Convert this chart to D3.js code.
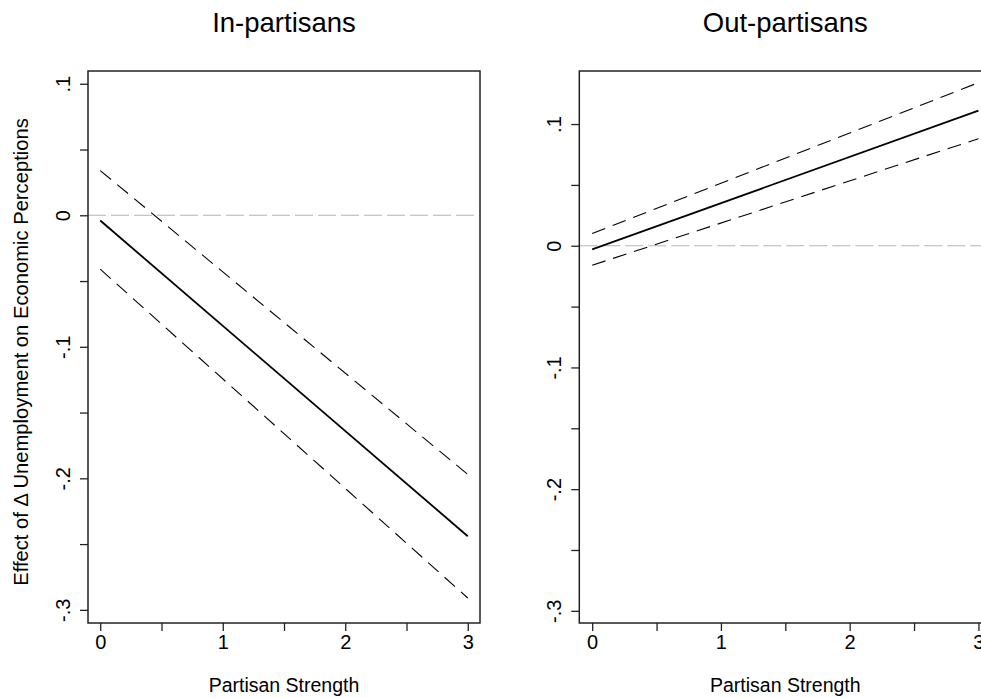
<!DOCTYPE html>
<html lang="en">
<head>
    <meta charset="UTF-8">
    <title>Partisan strength marginal effects</title>
    <script type="text/javascript" src="https://cdn.jsdelivr.net/npm/d3@7/dist/d3.min.js"></script>
    <style type="text/css">
        body { margin: 0; background: #fff; }
        text { font-family: "Liberation Sans", Arial, sans-serif; fill: #000; }
    </style>
</head>
<body>
<script type="text/javascript">

    //Width and height
    var w = 981;
    var h = 698;

    // data (lines are straight, so endpoints only)
    var strength = [0, 3];
    var inEffect = [-0.004, -0.244];
    var inUpper = [0.034, -0.197];
    var inLower = [-0.041, -0.291];
    var outEffect = [-0.003, 0.111];
    var outUpper = [0.010, 0.134];
    var outLower = [-0.016, 0.088];

    var xTicks = [0, 1, 2, 3];
    var xMinor = [0.5, 1.5, 2.5];
    var yTicks = [0.1, 0, -0.1, -0.2, -0.3];
    var yMinor = [0.05, -0.05, -0.15, -0.25];
    var yTickLabels = [".1", "0", "-.1", "-.2", "-.3"];

    var panels = [
        { title: "In-partisans", x0: 88, x1: 480, yTop: 0.1097,
          est: inEffect, hi: inUpper, lo: inLower },
        { title: "Out-partisans", x0: 579.3, x1: 991.3, yTop: 0.1436,
          est: outEffect, hi: outUpper, lo: outLower }
    ];
    var plotTop = 71, plotBottom = 623;
    var lineCol = "#222";

    var svg = d3.select("body")
        .append("svg")
        .attr("width", w)
        .attr("height", h);

    panels.forEach(function(p) {
        var x = d3.scaleLinear().domain([-0.1, 3.1]).range([p.x0, p.x1]);
        var y = d3.scaleLinear().domain([-0.31, p.yTop]).range([plotBottom, plotTop]);
        var g = svg.append("g");

        // zero reference line
        g.append("line")
            .attr("x1", p.x0).attr("x2", p.x1)
            .attr("y1", y(0)).attr("y2", y(0))
            .attr("stroke", "#b4b4b4")
            .attr("stroke-width", 1.1)
            .attr("stroke-dasharray", "18,5");

        var line = d3.line()
            .x(function(d) { return x(d[0]); })
            .y(function(d) { return y(d[1]); });

        [[p.hi, true], [p.lo, true], [p.est, false]].forEach(function(s) {
            g.append("path")
                .datum(d3.zip(strength, s[0]))
                .attr("d", line)
                .attr("fill", "none")
                .attr("stroke", "#000")
                .attr("stroke-width", s[1] ? 1.1 : 1.8)
                .attr("stroke-dasharray", s[1] ? "14,8" : null);
        });

        // frame
        g.append("rect")
            .attr("x", p.x0).attr("y", plotTop)
            .attr("width", p.x1 - p.x0).attr("height", plotBottom - plotTop)
            .attr("fill", "none")
            .attr("stroke", lineCol)
            .attr("stroke-width", 1.5);

        // x axis
        var xAxis = g.append("g")
            .attr("transform", "translate(0," + plotBottom + ")")
            .call(d3.axisBottom(x).tickValues(xTicks.concat(xMinor)).tickSize(8)
                .tickFormat(function(d) { return xTicks.indexOf(d) >= 0 ? d : ""; }));
        xAxis.select(".domain").remove();
        xAxis.selectAll("line").attr("stroke", lineCol).attr("stroke-width", 1.3);
        xAxis.selectAll("text")
            .attr("y", 26).attr("dy", 0)
            .attr("font-size", "20px")
            .attr("font-family", null);

        // y axis
        var yAxis = g.append("g")
            .attr("transform", "translate(" + p.x0 + ",0)")
            .call(d3.axisLeft(y).tickValues(yTicks.concat(yMinor.filter(function(v) { return v < p.yTop; })))
                .tickSize(8)
                .tickFormat(function(d) {
                    var i = yTicks.indexOf(d);
                    return i >= 0 ? yTickLabels[i] : "";
                }));
        yAxis.select(".domain").remove();
        yAxis.selectAll("line").attr("stroke", lineCol).attr("stroke-width", 1.3);
        yAxis.selectAll("text")
            .attr("transform", "rotate(-90)")
            .attr("x", 0).attr("y", -18).attr("dy", 0)
            .attr("text-anchor", "middle")
            .attr("font-size", "20px")
            .attr("font-family", null);

        // titles
        var cx = (p.x0 + p.x1) / 2;
        svg.append("text")
            .attr("x", cx).attr("y", 32)
            .attr("text-anchor", "middle")
            .attr("font-size", "27.5px")
            .text(p.title);
        svg.append("text")
            .attr("x", cx).attr("y", 692)
            .attr("text-anchor", "middle")
            .attr("font-size", "19.5px")
            .text("Partisan Strength");
    });

    // shared y title
    svg.append("text")
        .attr("transform", "translate(28,352) rotate(-90)")
        .attr("text-anchor", "middle")
        .attr("font-size", "20.2px")
        .text("Effect of \u0394 Unemployment on Economic Perceptions");
</script>
</body>
</html>
